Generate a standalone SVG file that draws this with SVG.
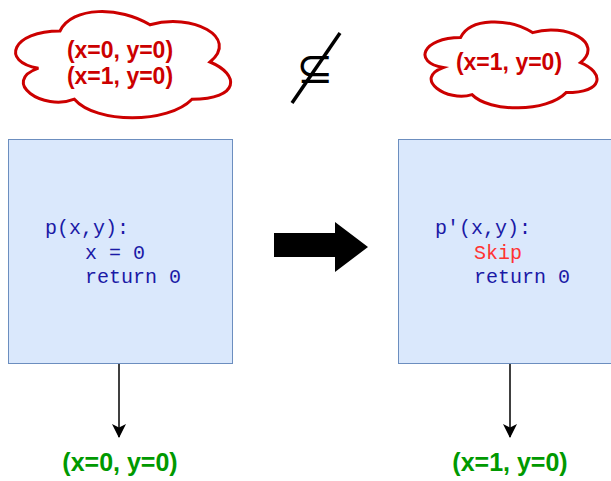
<svg xmlns="http://www.w3.org/2000/svg" width="611" height="481" viewBox="0 0 611 481">
  <style>
    .cloud { fill: #ffffff; stroke: #cc0000; stroke-width: 3; }
    .cloudtxt { fill: #cc0000; font-family: "Liberation Sans", Arial, sans-serif; font-weight: bold; font-size: 23px; text-anchor: middle; }
    .box { fill: #dae8fc; stroke: #6c8ebf; stroke-width: 1; }
    .code { fill: #1a1aa6; font-family: "Liberation Mono", "Courier New", monospace; font-size: 20px; white-space: pre; }
    .skip { fill: #ff3333; }
    .result { fill: #009900; font-family: "Liberation Sans", Arial, sans-serif; font-weight: bold; font-size: 25px; text-anchor: middle; }
    .edge { stroke: #000000; stroke-width: 1.5; fill: none; }
  </style>
  <defs>
    <marker id="classic" viewBox="0 0 14 14" refX="13" refY="7" markerWidth="14" markerHeight="14" markerUnits="userSpaceOnUse" orient="auto">
      <path d="M0,0 L14,7 L0,14 L3.5,7 Z" fill="#000000"/>
    </marker>
  </defs>

  <!-- input set cloud -->
  <g id="cloud-left">
    <path class="cloud" d="M60,31 C12,31 0,62 38.4,68.2 C0,81.8 43.2,111.6 74.4,99.2 C96,124 168,124 192,99.2 C240,99.2 240,74.4 210,62 C240,37.2 192,12.4 150,24.8 C120,6.2 72,6.2 60,31 Z"/>
    <text class="cloudtxt" x="120" y="58">(x=0, y=0)</text>
    <text class="cloudtxt" x="120" y="84">(x=1, y=0)</text>
  </g>

  <!-- not-subset relation -->
  <g id="not-subset">
    <text x="315" y="83" font-family="'DejaVu Sans', sans-serif" font-size="44" text-anchor="middle" fill="#000000">⊆</text>
    <line x1="292" y1="103" x2="340" y2="33" stroke="#000000" stroke-width="3.5"/>
  </g>

  <!-- output set cloud -->
  <g id="cloud-right">
    <path class="cloud" d="M460.5,37.6 C422.1,37.6 412.5,62.6 443.2,67.6 C412.5,78.6 447.1,102.6 472,94.6 C489.3,112.6 546.9,112.6 566.1,92.6 C604.5,92.6 604.5,72.6 580.5,62.6 C604.5,42.6 566.1,22.6 532.5,32.6 C508.5,17.6 470.1,17.6 460.5,37.6 Z"/>
    <text class="cloudtxt" x="509" y="70">(x=1, y=0)</text>
  </g>

  <!-- original program -->
  <g id="prog-left">
    <rect class="box" x="8.5" y="139.5" width="224" height="224"/>
    <text class="code" x="45" y="234">p(x,y):</text>
    <text class="code" x="85" y="258.5">x = 0</text>
    <text class="code" x="85" y="283">return 0</text>
  </g>

  <!-- transformation arrow -->
  <g id="transform">
    <polygon points="274,233 335,233 335,222 368,247 335,272 335,257 274,257" fill="#000000"/>
  </g>

  <!-- transformed program -->
  <g id="prog-right">
    <rect class="box" x="398.5" y="139.5" width="224" height="224"/>
    <text class="code" x="435" y="234">p'(x,y):</text>
    <text class="code skip" x="474" y="258.5">Skip</text>
    <text class="code" x="474" y="283">return 0</text>
  </g>

  <!-- results -->
  <g id="result-left">
    <text class="result" x="120" y="471">(x=0, y=0)</text>
  </g>
  <g id="result-right">
    <text class="result" x="510" y="471">(x=1, y=0)</text>
  </g>

  <g id="connectors">
    <line class="edge" x1="119" y1="364" x2="119" y2="437" marker-end="url(#classic)"/>
    <line class="edge" x1="510" y1="364" x2="510" y2="437" marker-end="url(#classic)"/>
  </g>
</svg>
